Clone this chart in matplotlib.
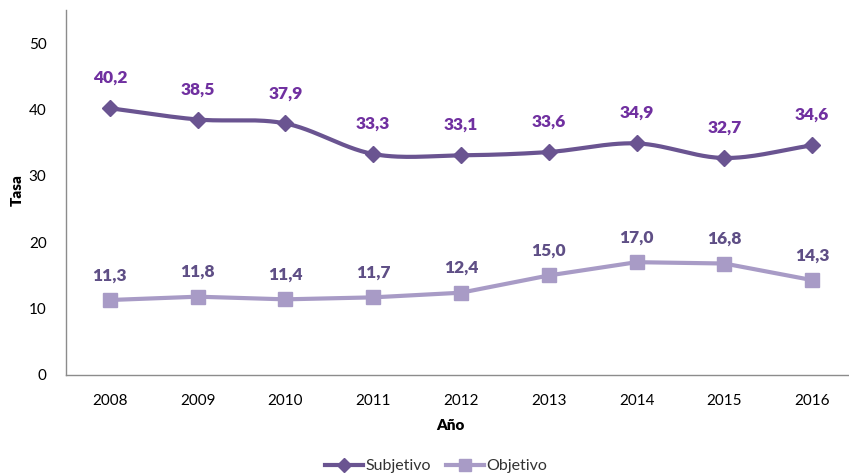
import numpy as np
import matplotlib
matplotlib.use("Agg")
import matplotlib.pyplot as plt
from matplotlib.lines import Line2D

years = ["2008", "2009", "2010", "2011", "2012", "2013", "2014", "2015", "2016"]
subjetivo = [40.2, 38.5, 37.9, 33.3, 33.1, 33.6, 34.9, 32.7, 34.6]
objetivo = [11.3, 11.8, 11.4, 11.7, 12.4, 15.0, 17.0, 16.8, 14.3]
yticks = [0, 10, 20, 30, 40, 50]

plt.rcParams['font.family'] = ['Lato', 'DejaVu Sans']

c_sub = "#6a5491"
c_obj = "#a89bc6"
c_lab_sub = "#7030a0"
c_lab_obj = "#5f4f86"


def catmull(xs, ys, n=30):
    xs = np.asarray(xs, float); ys = np.asarray(ys, float)
    px = np.concatenate([[2*xs[0]-xs[1]], xs, [2*xs[-1]-xs[-2]]])
    py = np.concatenate([[2*ys[0]-ys[1]], ys, [2*ys[-1]-ys[-2]]])
    ox, oy = [], []
    t = np.linspace(0, 1, n)
    for i in range(1, len(px)-2):
        for arr, out in ((px, ox), (py, oy)):
            p0, p1, p2, p3 = arr[i-1], arr[i], arr[i+1], arr[i+2]
            out.extend(0.5*((2*p1) + (-p0+p2)*t + (2*p0-5*p1+4*p2-p3)*t**2 + (-p0+3*p1-3*p2+p3)*t**3))
    return np.array(ox), np.array(oy)

fig = plt.figure(figsize=(8.49, 4.76), dpi=100)
ax = fig.add_axes([66/849, 1-375/476, (856-66)/849, (375-10)/476])

x = np.arange(len(years))
sx, sy = catmull(x, subjetivo)
ax.plot(sx, sy, color=c_sub, lw=3, solid_capstyle='round', zorder=3)
ax.plot(x, subjetivo, ls='none', marker='D', ms=8, color=c_sub, zorder=4)
ax.plot(x, objetivo, color=c_obj, lw=3, marker='s', ms=10, zorder=3)

for xi, v in zip(x, subjetivo):
    ax.annotate(f"{v:.1f}".replace('.', ','), (xi, v), xytext=(0, 16), textcoords='offset points',
                ha='center', va='bottom', fontsize=12.5, fontweight='heavy', color=c_lab_sub)
for xi, v in zip(x, objetivo):
    ax.annotate(f"{v:.1f}".replace('.', ','), (xi, v), xytext=(0, 12), textcoords='offset points',
                ha='center', va='bottom', fontsize=12.5, fontweight='heavy', color=c_lab_obj)

ax.set_xlim(-0.5, len(years)-0.5)
ax.set_ylim(0, 55)
ax.set_yticks(yticks)
ax.set_xticks(x)
ax.set_xticklabels(years)
ax.tick_params(axis='both', length=0, labelsize=11, colors='black')
ax.tick_params(axis='x', pad=14)
ax.tick_params(axis='y', pad=14)
for s in ('top', 'right'):
    ax.spines[s].set_visible(False)
for s in ('left', 'bottom'):
    ax.spines[s].set_color('#8c8c8c')
    ax.spines[s].set_linewidth(1)

fig.text(17/849, 1-190/476, "Tasa", rotation=90, ha='center', va='center', fontsize=11, fontweight='heavy')
fig.text(450/849, 1-426/476, "Año", ha='center', va='center', fontsize=11, fontweight='heavy')

handles = [Line2D([], [], color=c_sub, lw=3, marker='D', ms=7),
           Line2D([], [], color=c_obj, lw=3, marker='s', ms=9)]
fig.legend(handles, ["Subjetivo", "Objetivo"], loc='center', bbox_to_anchor=(436/849, 1-466/476),
           ncol=2, frameon=False, fontsize=11.5, handlelength=2.4, columnspacing=0.9, handletextpad=0.15,
           labelcolor='#333333')

fig.savefig("out.png", dpi=100)
